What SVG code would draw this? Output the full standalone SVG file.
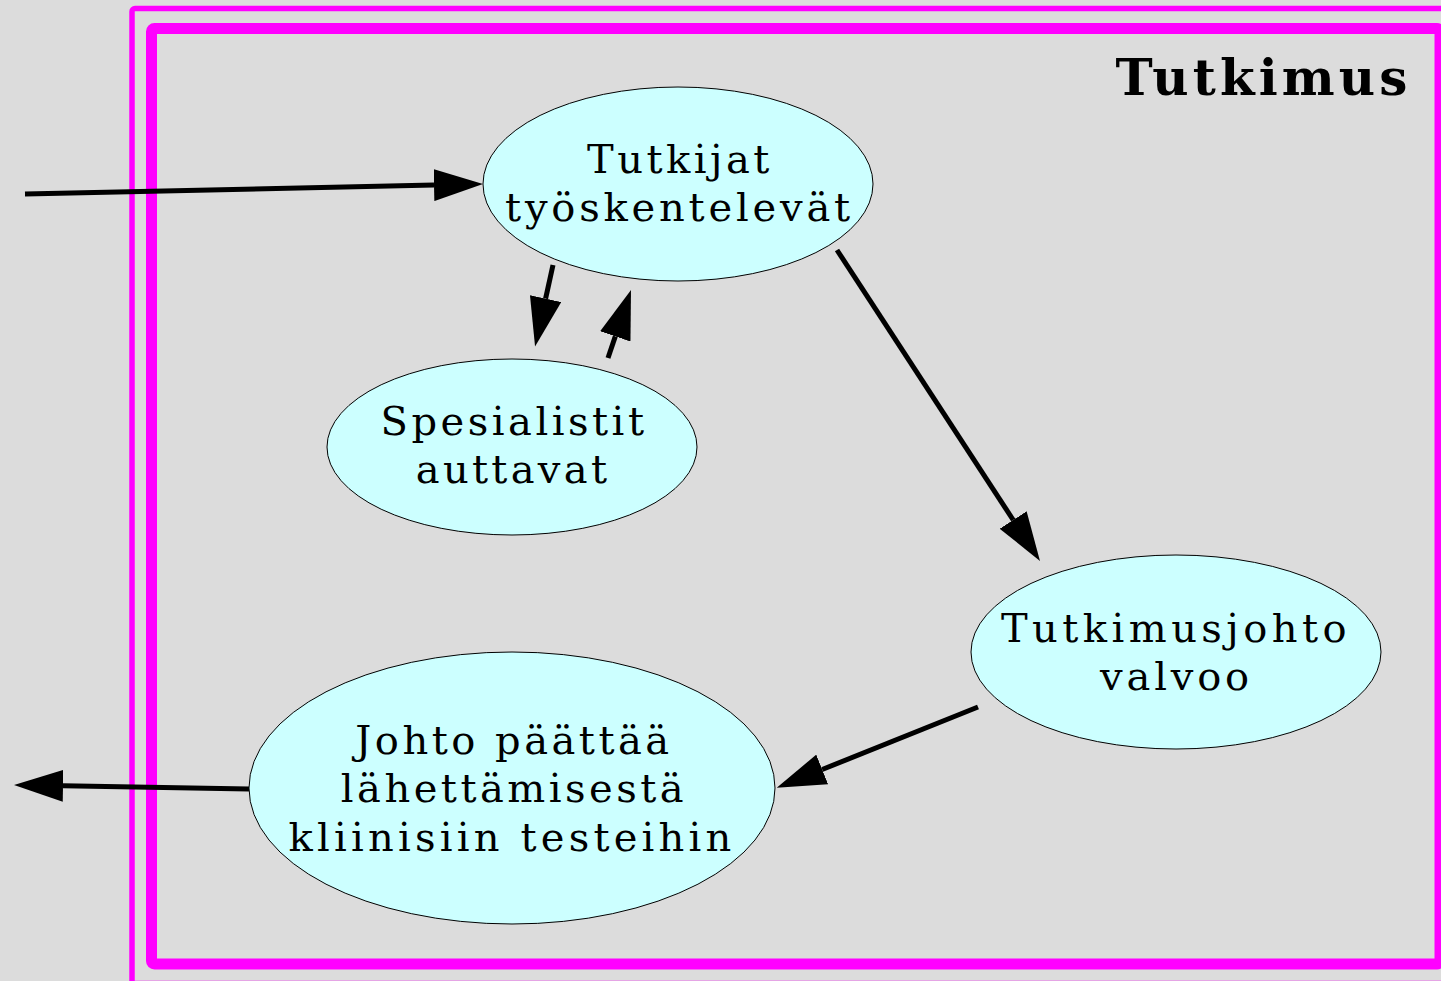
<svg xmlns="http://www.w3.org/2000/svg" width="1441" height="981" viewBox="0 0 1441 981">
<style>
.node ellipse{fill:#ccffff;stroke:#000;stroke-width:1}
.lbl{font-family:"DejaVu Serif",serif;font-size:40px;letter-spacing:3.5px;text-anchor:middle;fill:#000}
.title{font-family:"DejaVu Serif",serif;font-size:50px;font-weight:bold;letter-spacing:4.1px;text-anchor:end;fill:#000}
.edge{stroke:#000;stroke-width:5;fill:none;marker-end:url(#ah)}
</style>
<defs>
<marker id="ah" viewBox="0 0 49 32" refX="0" refY="16" markerWidth="49" markerHeight="32" markerUnits="userSpaceOnUse" orient="auto">
<path d="M0,0 L49,16 L0,32 z" fill="#000"/>
</marker>
</defs>
<rect x="0" y="0" width="1441" height="981" fill="#dcdcdc"/>
<g id="cluster">
<rect x="132" y="8.5" width="1330" height="975" rx="3" fill="none" stroke="#ff00ff" stroke-width="5.5"/>
<rect x="151.5" y="28.5" width="1288.5" height="935.5" rx="3" fill="none" stroke="#ff00ff" stroke-width="11"/>
<text class="title" x="1411.5" y="95">Tutkimus</text>
</g>
<g id="connectors">
<line class="edge" x1="25" y1="194" x2="434" y2="185.1"/>
<line class="edge" x1="553" y1="265" x2="545.6" y2="298.6"/>
<line class="edge" x1="608" y1="358" x2="615.3" y2="336.4"/>
<line class="edge" x1="837" y1="250" x2="1013.2" y2="520"/>
<line class="edge" x1="978" y1="707" x2="822.2" y2="769.5"/>
<line class="edge" x1="249" y1="789" x2="63" y2="785.8"/>
</g>
<g id="n-tutkijat" class="node">
<ellipse cx="678" cy="184" rx="195" ry="97"/>
<text class="lbl" x="680" y="173">Tutkijat</text>
<text class="lbl" x="679.5" y="221" style="letter-spacing:3.8px">työskentelevät</text>
</g>
<g id="n-spesialistit" class="node">
<ellipse cx="512" cy="447" rx="185" ry="88"/>
<text class="lbl" x="514" y="435">Spesialistit</text>
<text class="lbl" x="513" y="483" style="letter-spacing:3.3px">auttavat</text>
</g>
<g id="n-tutkimusjohto" class="node">
<ellipse cx="1176" cy="652" rx="205" ry="97"/>
<text class="lbl" x="1176" y="642" style="letter-spacing:4.45px">Tutkimusjohto</text>
<text class="lbl" x="1176.5" y="690" style="letter-spacing:3.8px">valvoo</text>
</g>
<g id="n-johto" class="node">
<ellipse cx="512" cy="788" rx="263" ry="136"/>
<text class="lbl" x="514" y="754">Johto päättää</text>
<text class="lbl" x="514" y="802">lähettämisestä</text>
<text class="lbl" x="512" y="851" style="letter-spacing:4.2px">kliinisiin testeihin</text>
</g>
</svg>
